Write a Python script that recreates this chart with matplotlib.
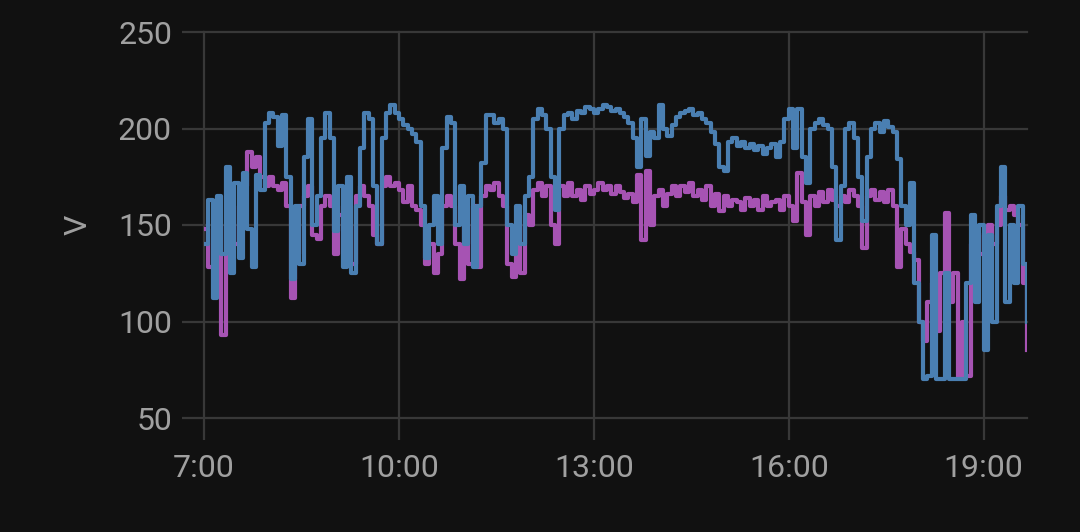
import numpy as np
import matplotlib.pyplot as plt

# minutes after 7:00, one reading every 4 minutes
minutes = np.arange(0, 761, 4)

blue_v = [
    140, 163, 112, 165, 135, 180, 125, 172, 133, 177, 148, 128, 176, 168, 203,
    208, 206, 191, 207, 175, 122, 160, 130, 185, 205, 150, 165, 195, 208, 195,
    147, 170, 128, 175, 125, 160, 190, 208, 205, 170, 140, 195, 208, 212, 208,
    205, 202, 200, 197, 193, 160, 133, 150, 165, 140, 190, 206, 203, 150, 170,
    140, 165, 128, 160, 182, 207, 207, 203, 205, 200, 150, 135, 160, 140, 165,
    175, 205, 210, 207, 200, 175, 158, 200, 207, 208, 205, 209, 208, 211, 210,
    208, 210, 212, 211, 209, 210, 208, 206, 203, 195, 180, 205, 186, 198, 195,
    212, 200, 196, 202, 206, 208, 209, 210, 207, 208, 205, 203, 198, 192, 180,
    178, 193, 195, 191, 193, 190, 192, 189, 191, 187, 190, 192, 185, 193, 205,
    210, 190, 210, 185, 172, 200, 203, 205, 202, 200, 180, 142, 170, 200, 203,
    195, 175, 152, 185, 200, 203, 198, 204, 201, 198, 184, 160, 150, 172, 120,
    100, 70, 72, 145, 70, 70, 125, 70, 70, 70, 70, 120, 155, 110, 150,
    85, 145, 100, 160, 180, 110, 150, 120, 160, 130, 100,
]

magenta_v = [
    148, 128, 140, 150, 93, 135, 150, 140, 160, 170, 188, 180, 185, 175, 170,
    175, 170, 168, 172, 160, 112, 135, 160, 165, 170, 145, 143, 160, 165, 160,
    135, 155, 160, 150, 130, 165, 170, 165, 160, 145, 140, 170, 175, 170, 172,
    168, 162, 170, 160, 158, 150, 130, 140, 125, 135, 160, 165, 160, 140, 122,
    150, 130, 160, 128, 165, 170, 168, 172, 165, 160, 130, 123, 150, 125, 155,
    150, 168, 172, 165, 170, 150, 140, 170, 165, 172, 165, 168, 163, 170, 166,
    168, 172, 168, 170, 166, 170, 167, 164, 166, 162, 176, 142, 178, 150, 165,
    168, 160, 166, 170, 165, 170, 167, 172, 165, 168, 163, 170, 160, 166, 157,
    165, 160, 163, 162, 158, 164, 160, 163, 158, 165, 160, 162, 163, 158, 165,
    160, 152, 177, 162, 145, 165, 160, 167, 162, 168, 163, 160, 165, 162, 168,
    165, 160, 138, 165, 168, 163, 167, 162, 168, 160, 128, 148, 140, 136, 132,
    100, 90, 110, 120, 95, 125, 156, 110, 125, 71, 100, 72, 140, 146, 135,
    145, 150, 140, 150, 165, 158, 160, 155, 150, 120, 85,
]

tick_pos = [0, 180, 360, 540, 720]
tick_lbl = ["7:00", "10:00", "13:00", "16:00", "19:00"]
y_ticks = [50, 100, 150, 200, 250]

bg = "#111111"
grid_c = "#383838"
text_c = "#a0a0a0"

plt.rcParams["font.family"] = ["Roboto", "DejaVu Sans"]

fig = plt.figure(figsize=(10.8, 5.32), dpi=100, facecolor=bg)
ax = fig.add_axes([204 / 1080, 1 - 418 / 532, (1027 - 204) / 1080, (418 - 32) / 532])
ax.set_facecolor(bg)

ax.plot(minutes, magenta_v, color="#a653b3", lw=3, drawstyle="steps-post", zorder=3)
ax.plot(minutes, blue_v, color="#4a7fb2", lw=3, drawstyle="steps-post", zorder=4)

ax.set_xlim(0, 760)
ax.set_ylim(50, 250)
ax.set_xticks(tick_pos)
ax.set_xticklabels(tick_lbl)
ax.set_yticks(y_ticks)

for s in ax.spines.values():
    s.set_visible(False)
ax.grid(True, color=grid_c, lw=1.6)
for ln in ax.get_xgridlines() + ax.get_ygridlines():
    ln.set_clip_on(False)
ax.tick_params(axis="both", colors=grid_c, length=16, width=1.6, labelsize=23, labelcolor=text_c)
ax.tick_params(axis="y", pad=7)
ax.tick_params(axis="x", pad=10)
ax.set_ylabel("V", color=text_c, fontsize=23, labelpad=18)

fig.savefig("out.png", dpi=100, facecolor=bg)
